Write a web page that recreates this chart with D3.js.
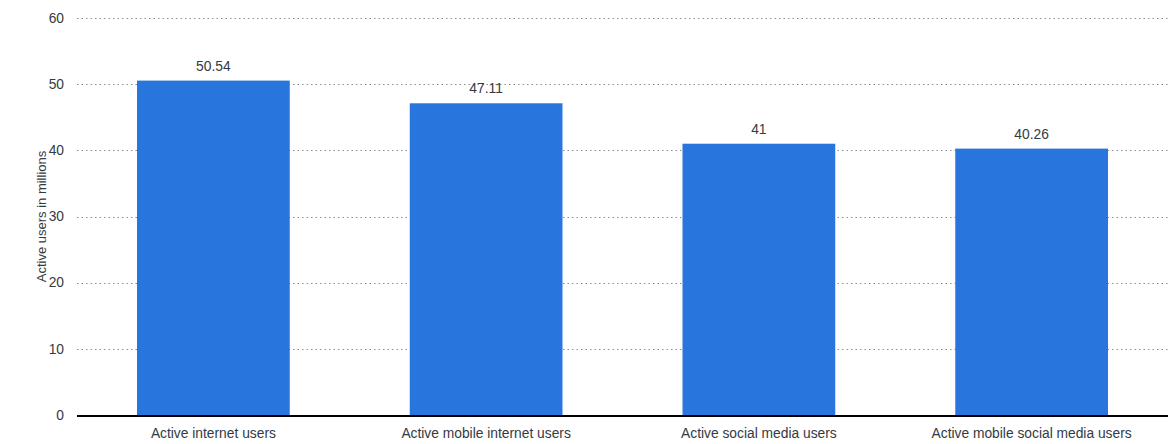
<!DOCTYPE html>
<html>
<head>
<meta charset="utf-8">
<script src="https://cdn.jsdelivr.net/npm/d3@7"></script>
<style>
  html, body { margin: 0; padding: 0; background: #fff; }
  svg { display: block; font-family: "Liberation Sans", Arial, sans-serif; }
</style>
</head>
<body>
<svg id="chart" width="1176" height="444"></svg>
<script>
const categories = ["Active internet users", "Active mobile internet users", "Active social media users", "Active mobile social media users"];
const values = [50.54, 47.11, 41, 40.26];
const valueLabels = ["50.54", "47.11", "41", "40.26"];
const yTicks = [0, 10, 20, 30, 40, 50, 60];
const yTitle = "Active users in millions";

const svg = d3.select("#chart");
const margin = { left: 77, right: 8, top: 18, bottom: 29 };
const W = 1176, H = 444;
const fs = 13.8;

const x = d3.scaleBand()
  .domain(categories)
  .range([margin.left, W - margin.right])
  .paddingInner(0.44)
  .paddingOuter(0.22);

const y = d3.scaleLinear()
  .domain([0, 60])
  .range([H - margin.bottom, margin.top]);

// Horizontal dotted gridlines
svg.append("g")
  .selectAll("line")
  .data(yTicks.filter(d => d !== 0))
  .join("line")
  .attr("x1", margin.left)
  .attr("x2", W - margin.right)
  .attr("y1", d => Math.round(y(d)) + 0.5)
  .attr("y2", d => Math.round(y(d)) + 0.5)
  .attr("stroke", "#8a8f96")
  .attr("stroke-width", 1)
  .attr("stroke-dasharray", "1.5,3");

// Y tick labels
svg.append("g")
  .selectAll("text")
  .data(yTicks)
  .join("text")
  .attr("x", 64)
  .attr("y", d => y(d))
  .attr("dy", "0.35em")
  .attr("text-anchor", "end")
  .attr("font-size", fs)
  .attr("fill", "#333a42")
  .text(d => d);

// Y axis title
svg.append("text")
  .attr("transform", `translate(46, ${y(30)}) rotate(-90)`)
  .attr("text-anchor", "middle")
  .attr("font-size", 13)
  .attr("fill", "#333a42")
  .text(yTitle);

// Bars
svg.append("g")
  .selectAll("rect")
  .data(values)
  .join("rect")
  .attr("x", (d, i) => x(categories[i]))
  .attr("width", x.bandwidth())
  .attr("y", d => y(d))
  .attr("height", d => y(0) - y(d))
  .attr("fill", "#2876dd");

// Value labels
svg.append("g")
  .selectAll("text")
  .data(values)
  .join("text")
  .attr("x", (d, i) => x(categories[i]) + x.bandwidth() / 2)
  .attr("y", d => y(d) - 10)
  .attr("text-anchor", "middle")
  .attr("font-size", fs)
  .attr("fill", "#333a42")
  .text((d, i) => valueLabels[i]);

// Baseline
svg.append("line")
  .attr("x1", margin.left)
  .attr("x2", W - margin.right)
  .attr("y1", y(0) + 1)
  .attr("y2", y(0) + 1)
  .attr("stroke", "#000")
  .attr("stroke-width", 2);

// Category labels
svg.append("g")
  .selectAll("text")
  .data(categories)
  .join("text")
  .attr("x", d => x(d) + x.bandwidth() / 2)
  .attr("y", H - 6)
  .attr("text-anchor", "middle")
  .attr("font-size", fs)
  .attr("fill", "#333a42")
  .text(d => d);
</script>
</body>
</html>
